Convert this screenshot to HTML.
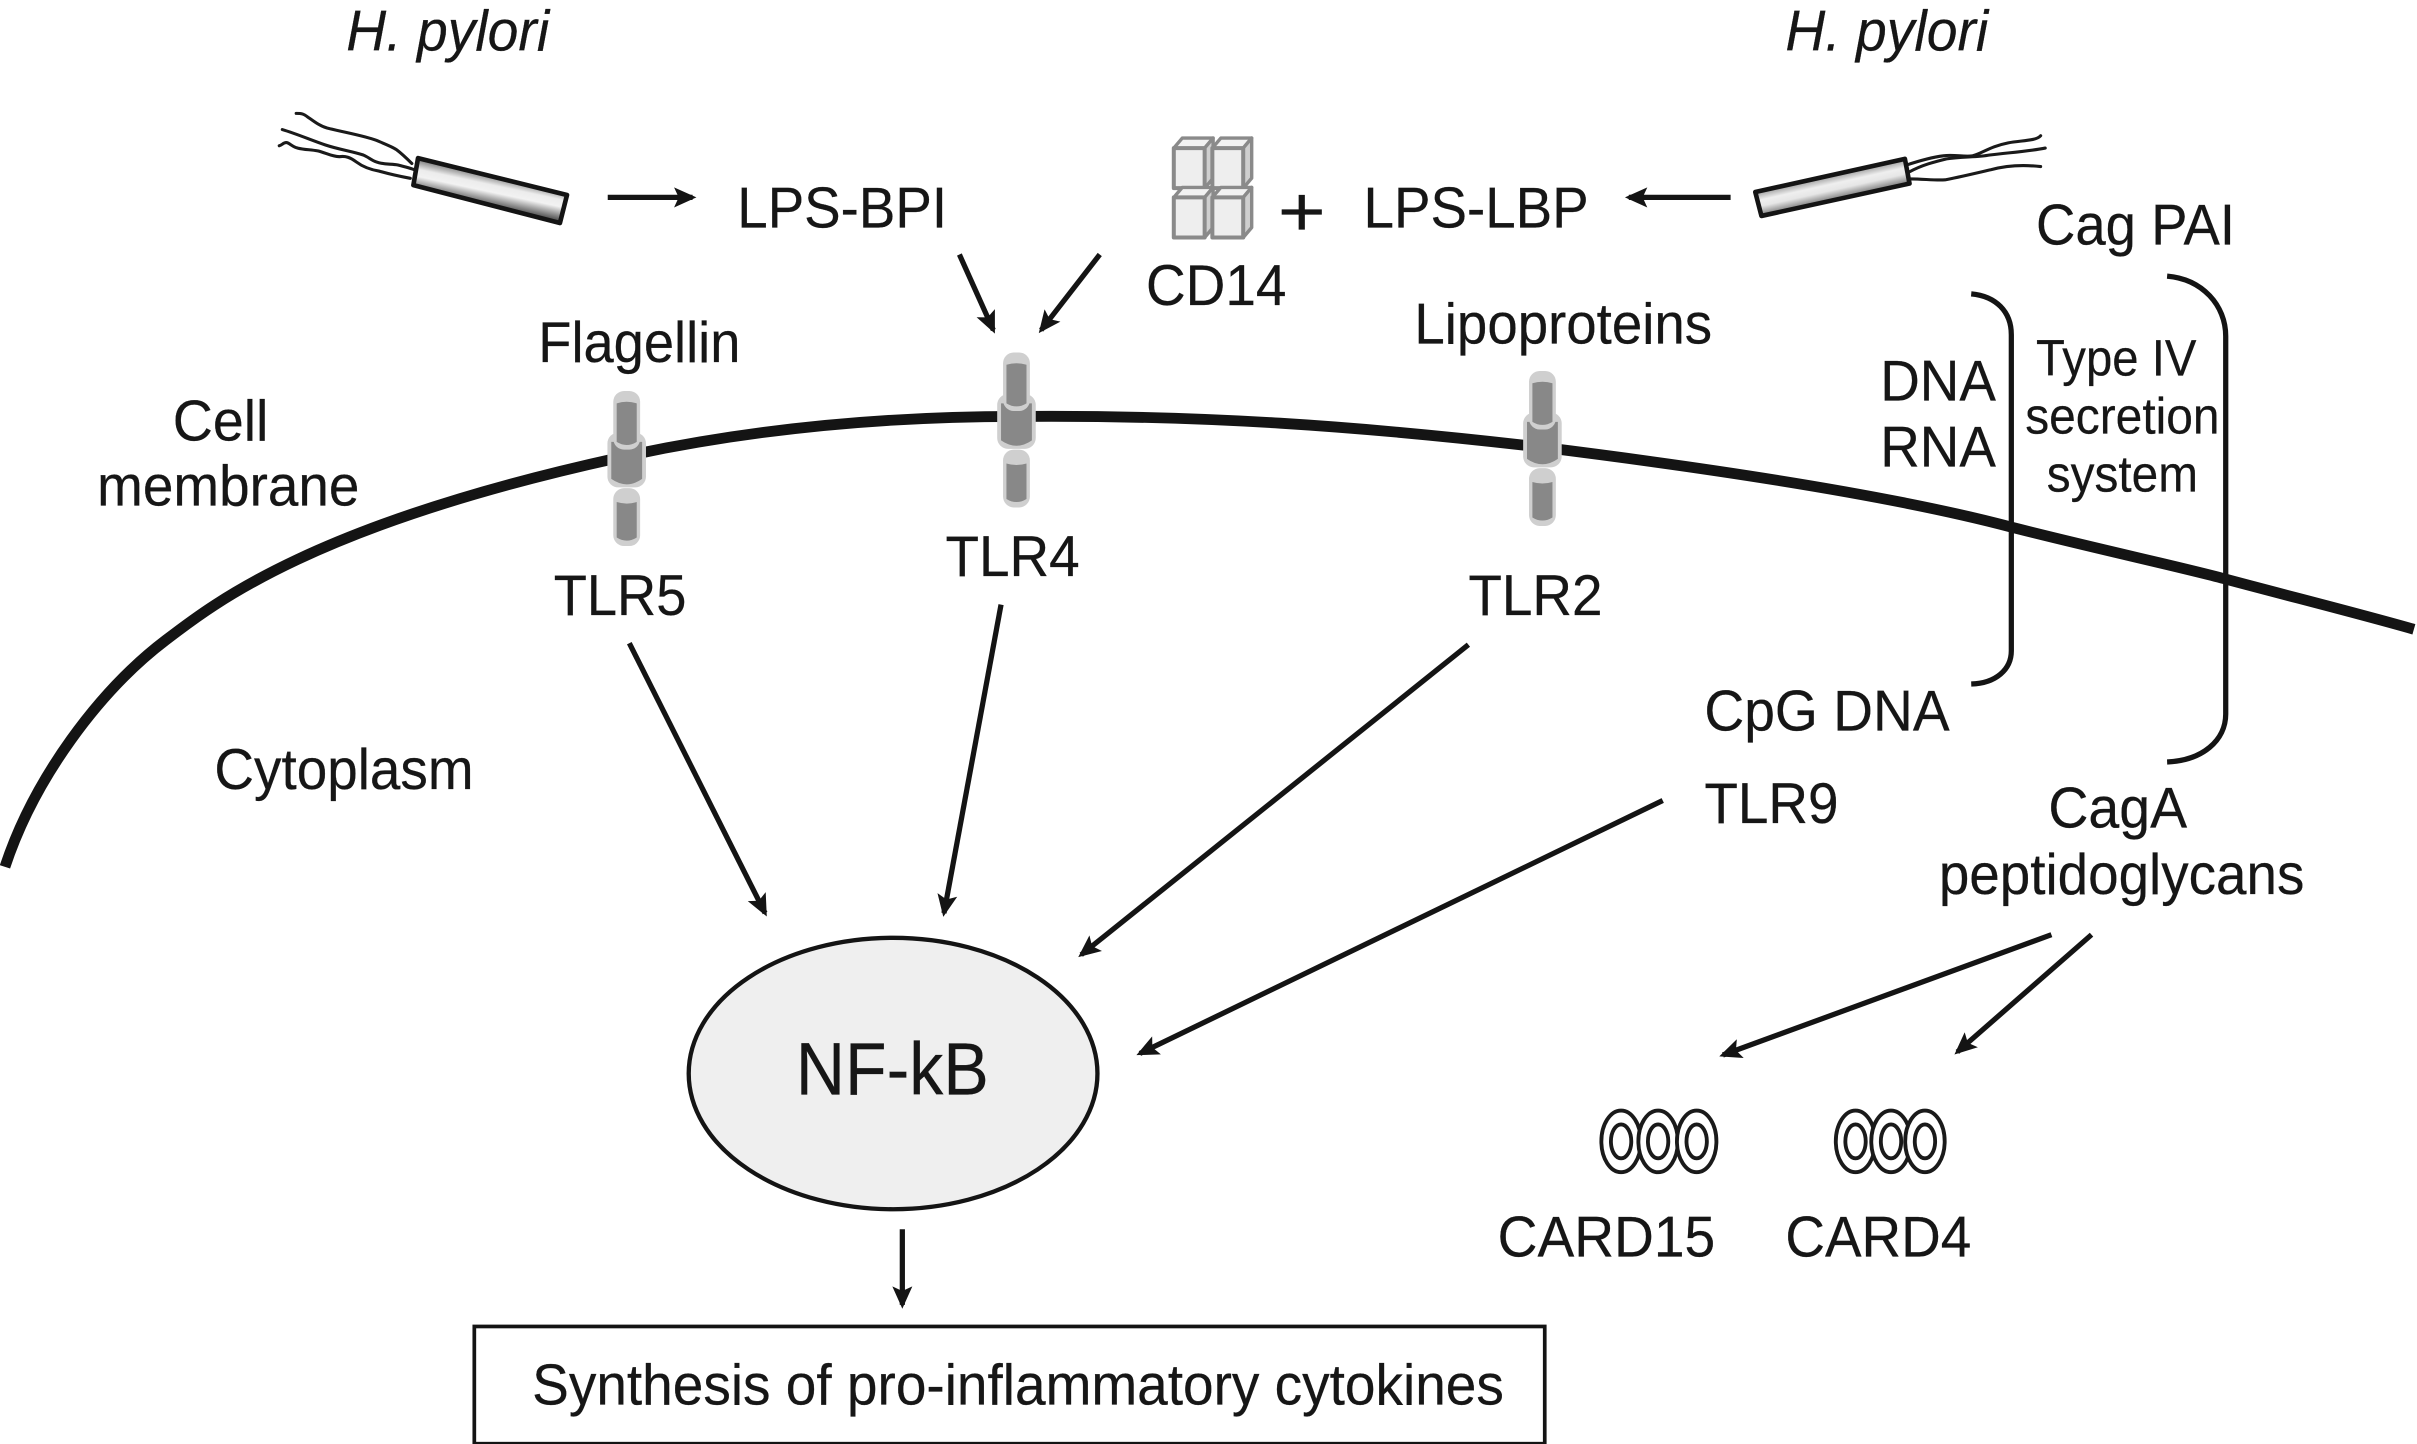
<!DOCTYPE html>
<html><head><meta charset="utf-8"><title>H. pylori signalling</title>
<style>
html,body{margin:0;padding:0;background:#fff}
svg{display:block}
text{font-family:"Liberation Sans",Arial,sans-serif;fill:#161616;font-size:37px;stroke:#161616;stroke-width:.15}
.ln{stroke:#141414;stroke-width:3.4;fill:none;marker-end:url(#ah)}
.fl{stroke:#1a1a1a;stroke-width:2;fill:none;stroke-linecap:round;stroke-linejoin:round}
.ct{fill:#f2f2f2;stroke:#8a8a8a;stroke-width:2.2;stroke-linejoin:round}
.cs{fill:#cfcfcf;stroke:#8a8a8a;stroke-width:2.2;stroke-linejoin:round}
.cf{fill:#eeeeee;stroke:#8a8a8a;stroke-width:2.6;stroke-linejoin:round}
.card{fill:#fff;stroke:#1a1a1a;stroke-width:2.5}
</style></head><body>
<svg xmlns="http://www.w3.org/2000/svg" width="2417" height="1444" viewBox="0 0 1567 936.2">
<defs>
<marker id="ah" markerUnits="userSpaceOnUse" markerWidth="24" markerHeight="20" refX="12" refY="7" orient="auto"><path d="M0,0.5 L14.5,7 L0,13.5 L3,7Z" fill="#141414"/></marker>
<linearGradient id="b1" gradientUnits="userSpaceOnUse" x1="319.3" y1="114.4" x2="315.5" y2="132.3"><stop offset="0" stop-color="#8c8c8c"/><stop offset=".3" stop-color="#ececec"/><stop offset=".55" stop-color="#f2f2f2"/><stop offset="1" stop-color="#5e5e5e"/></linearGradient>
<linearGradient id="b2" gradientUnits="userSpaceOnUse" x1="1186.5" y1="113.8" x2="1190" y2="129.5"><stop offset="0" stop-color="#9a9a9a"/><stop offset=".35" stop-color="#efefef"/><stop offset=".6" stop-color="#e6e6e6"/><stop offset="1" stop-color="#777"/></linearGradient>
<g id="tlr">
<rect x="-12.5" y="27" width="25" height="35.5" rx="7" fill="#cfcfcf"/>
<path d="M-10,33 L10,33 L10,57 Q0,64 -10,57Z" fill="#888"/>
<rect x="-8.7" y="0" width="17.4" height="38" rx="7" fill="#cfcfcf"/>
<path d="M-6.5,8 Q0,6 6.5,8 L6.5,33 Q0,37 -6.5,33Z" fill="#888"/>
<rect x="-8.7" y="63" width="17.4" height="37.5" rx="7" fill="#cfcfcf"/>
<path d="M-6.5,72 Q0,74 6.5,72 L6.5,95 Q0,99 -6.5,95Z" fill="#888"/>
</g>
<g id="cube">
<path class="ct" d="M0,0 L5.5,-6.5 L25.5,-6.5 L20,0Z"/>
<path class="cs" d="M20,0 L25.5,-6.5 L25.5,19.5 L20,26Z"/>
<rect class="cf" x="0" y="0" width="20" height="26"/>
</g>
<g id="trip">
<ellipse class="card" cx="0" cy="0" rx="12.8" ry="20"/><ellipse class="card" cx="0" cy="0" rx="6.6" ry="11"/>
</g>
</defs>
<rect width="1567" height="937" fill="#fff"/>

<!-- membrane -->
<path d="M3.2,562 C22,505 64,448 107.5,415 C140,390 205,340 400,297 C490,277 580,270 660,270 C780,269 880,276 1000,290 C1120,305 1230,322 1305,342 C1360,356 1420,369 1445,376 C1490,388 1530,398 1565,408" fill="none" stroke="#141414" stroke-width="7"/>

<!-- receptors -->
<use href="#tlr" x="406.3" y="253.5"/>
<use href="#tlr" x="659" y="228.5"/>
<use href="#tlr" x="1000" y="240.5"/>

<!-- left bacterium -->
<path class="fl" d="M192,73.5 C196,73.5 197,74 199,75.5 C204,79 207,81.5 212,83 C224,86 236,88 244,91 C250,93.5 254,95 257,97 C261,100 264,103 267,106"/>
<path class="fl" d="M183,84 C193,87 202,91 211,94 C220,97 228,98 235.5,100.5 C239,102 241,104 244,105 C249,107 254,106 258,107 C262,108 266,109 269,110.2"/>
<path class="fl" d="M181,94.5 C183,94 184,92 186,92.5 C188,93 190,95.5 193,96 C197,97 201,97 206,97.8 C211,99 215,101.5 220,101.6 C224,101 227,102 231,105 C235,108 240,110 246,111 C253,113 260,114.5 266,115.6"/>
<path d="M271,102.5 L367.6,126.4 L363,144.6 L268,120Z" fill="url(#b1)" stroke="#141414" stroke-width="3" stroke-linejoin="round"/>

<!-- right bacterium -->
<path class="fl" d="M1236,107 C1245,104 1252,102 1260,101 C1267,100 1274,102 1279,101 C1286,99 1290,95 1302,92.6 C1310,91 1320,91.5 1323,88"/>
<path class="fl" d="M1238,111.4 C1246,107 1254,105 1262,103 C1272,101.5 1282,102 1290,100.5 C1302,99 1316,98 1326,96"/>
<path class="fl" d="M1239,116 C1247,116 1254,117 1261,116.6 C1270,115 1282,112 1291,110 C1302,107 1314,107 1323,108"/>
<path d="M1138,124.5 L1235,103 L1238,119 L1142,140Z" fill="url(#b2)" stroke="#141414" stroke-width="3" stroke-linejoin="round"/>

<!-- CD14 cubes -->
<use href="#cube" x="761" y="96"/><use href="#cube" x="786" y="96"/>
<use href="#cube" x="761" y="128"/><use href="#cube" x="786" y="128"/>

<!-- brackets -->
<path d="M1278,190.5 C1294,192 1304,202 1304,217 L1304,422 C1304,434 1294,443 1278,443.5" fill="none" stroke="#141414" stroke-width="3.4"/>
<path d="M1405,179 C1428,181 1443,198 1443,218 L1443,463 C1443,480 1428,493 1405,494" fill="none" stroke="#141414" stroke-width="3.4"/>

<!-- arrows -->
<line class="ln" x1="394" y1="128" x2="449" y2="128"/>
<line class="ln" x1="1122" y1="128" x2="1056" y2="128"/>
<line class="ln" x1="622" y1="165" x2="644" y2="214"/>
<line class="ln" x1="713" y1="165" x2="675" y2="214"/>
<line class="ln" x1="408" y1="417" x2="496" y2="592"/>
<line class="ln" x1="649" y1="392" x2="612" y2="592"/>
<line class="ln" x1="952" y1="418" x2="701" y2="619"/>
<line class="ln" x1="1078" y1="519" x2="739" y2="683"/>
<line class="ln" x1="1330" y1="606" x2="1117" y2="684"/>
<line class="ln" x1="1356" y1="606" x2="1269" y2="682"/>
<line class="ln" x1="585" y1="797" x2="585" y2="846"/>

<!-- NF-kB -->
<ellipse cx="579" cy="696" rx="132.5" ry="88" fill="#efefef" stroke="#141414" stroke-width="2.8"/>
<!-- box -->
<rect x="307.5" y="860" width="694" height="76" fill="#fff" stroke="#141414" stroke-width="2.4"/>

<!-- CARD -->
<use href="#trip" x="1051" y="740"/><use href="#trip" x="1075" y="740"/><use href="#trip" x="1100" y="740"/>
<use href="#trip" x="1203" y="740"/><use href="#trip" x="1226" y="740"/><use href="#trip" x="1248" y="740"/>

<!-- labels -->
<g transform="translate(-1,0.6)">
<text x="225.5" y="32" font-style="italic" textLength="131.5" lengthAdjust="spacingAndGlyphs">H. pylori</text>
<text x="1158.5" y="32" font-style="italic" textLength="131.5" lengthAdjust="spacingAndGlyphs">H. pylori</text>
<text x="479" y="147" textLength="136" lengthAdjust="spacingAndGlyphs">LPS-BPI</text>
<text x="885" y="147" textLength="146" lengthAdjust="spacingAndGlyphs">LPS-LBP</text>
<text x="744" y="197" textLength="91" lengthAdjust="spacingAndGlyphs">CD14</text>
<text x="829.5" y="152" style="font-size:46px" textLength="31" lengthAdjust="spacingAndGlyphs">+</text>
<text x="1321" y="158" textLength="129" lengthAdjust="spacingAndGlyphs">Cag PAI</text>
<text x="350" y="234" textLength="131" lengthAdjust="spacingAndGlyphs">Flagellin</text>
<text x="918" y="222" textLength="193" lengthAdjust="spacingAndGlyphs">Lipoproteins</text>
<text x="1321" y="243" style="font-size:33px" textLength="104" lengthAdjust="spacingAndGlyphs">Type IV</text>
<text x="1314" y="280.5" style="font-size:33px" textLength="126" lengthAdjust="spacingAndGlyphs">secretion</text>
<text x="1328" y="318" style="font-size:33px" textLength="98" lengthAdjust="spacingAndGlyphs">system</text>
<text x="1220" y="259" textLength="75" lengthAdjust="spacingAndGlyphs">DNA</text>
<text x="1220" y="302" textLength="75" lengthAdjust="spacingAndGlyphs">RNA</text>
<text x="113" y="285" textLength="62" lengthAdjust="spacingAndGlyphs">Cell</text>
<text x="64" y="327" textLength="170" lengthAdjust="spacingAndGlyphs">membrane</text>
<text x="360" y="398" textLength="86" lengthAdjust="spacingAndGlyphs">TLR5</text>
<text x="614" y="373" textLength="87" lengthAdjust="spacingAndGlyphs">TLR4</text>
<text x="953" y="398" textLength="87" lengthAdjust="spacingAndGlyphs">TLR2</text>
<text x="140" y="511" textLength="168" lengthAdjust="spacingAndGlyphs">Cytoplasm</text>
<text x="1106" y="473" textLength="159" lengthAdjust="spacingAndGlyphs">CpG DNA</text>
<text x="1106" y="533" textLength="87" lengthAdjust="spacingAndGlyphs">TLR9</text>
<text x="1329" y="536" textLength="90" lengthAdjust="spacingAndGlyphs">CagA</text>
<text x="1258" y="579" textLength="237" lengthAdjust="spacingAndGlyphs">peptidoglycans</text>
<text x="517" y="709" style="font-size:48px" textLength="125" lengthAdjust="spacingAndGlyphs">NF-kB</text>
<text x="972" y="814" textLength="141" lengthAdjust="spacingAndGlyphs">CARD15</text>
<text x="1158.5" y="814" textLength="120.5" lengthAdjust="spacingAndGlyphs">CARD4</text>
<text x="346" y="910" textLength="630" lengthAdjust="spacingAndGlyphs">Synthesis of pro-inflammatory cytokines</text>
</g>
</svg>
</body></html>
